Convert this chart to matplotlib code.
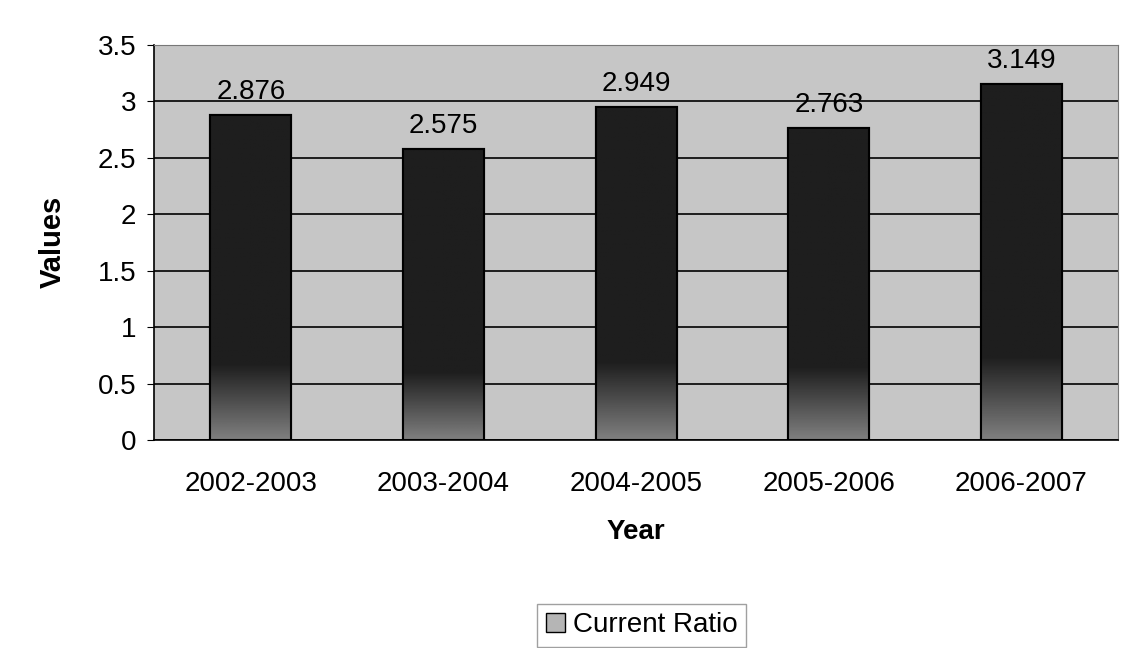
import numpy as np
import matplotlib
matplotlib.use("Agg")
import matplotlib.pyplot as plt

years = ['2002-2003', '2003-2004', '2004-2005', '2005-2006', '2006-2007']
current_ratio = [2.876, 2.575, 2.949, 2.763, 3.149]
yticks = [0, 0.5, 1, 1.5, 2, 2.5, 3, 3.5]
ytick_labels = ['0', '0.5', '1', '1.5', '2', '2.5', '3', '3.5']

plt.rcParams['font.family'] = ['Liberation Sans', 'DejaVu Sans']

fig = plt.figure(figsize=(11.36, 6.48), dpi=100)
ax = fig.add_axes([0.136, 0.321, 0.848, 0.610])
ax.set_facecolor('#c6c6c6')

x = np.arange(len(years))
bars = ax.bar(x, current_ratio, width=0.42, color='#1c1c1c', edgecolor='black',
              linewidth=1.5, zorder=3, label='Current Ratio')

# dark bars that fade to grey near the base
ramp = np.concatenate([np.linspace(0.5, 0.12, 60), np.full(196, 0.12)]).reshape(-1, 1)
for b in bars:
    x0, w, h = b.get_x(), b.get_width(), b.get_height()
    im = ax.imshow(ramp, cmap='gray', vmin=0, vmax=1, aspect='auto',
                   extent=(x0, x0 + w, 0, h), origin='lower', zorder=3.5)
    im.set_clip_path(b)
    ax.bar(x0 + w / 2, h, width=w, fill=False, edgecolor='black',
           linewidth=1.5, zorder=4)

for xi, v in zip(x, current_ratio):
    ax.text(xi, v + 0.09, f'{v:.3f}', ha='center', va='bottom', fontsize=20,
            zorder=5, clip_on=False)

ax.set_xlim(-0.5, len(years) - 0.5)
ax.set_ylim(0, 3.5)
ax.set_yticks(yticks)
ax.set_yticklabels(ytick_labels, fontsize=20)
ax.set_xticks(x)
ax.set_xticklabels(years, fontsize=20)
ax.tick_params(axis='x', length=0, pad=22)
ax.tick_params(axis='y', length=5, pad=8)
ax.yaxis.grid(True, color='black', linewidth=1.2, zorder=1)
ax.set_axisbelow(True)
for s in ['top', 'right']:
    ax.spines[s].set_color('#777777')
ax.spines['left'].set_linewidth(1.2)
ax.spines['bottom'].set_linewidth(1.2)

ax.set_xlabel('Year', fontsize=20, fontweight='bold', labelpad=16)
ax.set_ylabel('Values', fontsize=21, fontweight='bold', labelpad=22)

leg = fig.legend(handles=[plt.Rectangle((0, 0), 1, 1, facecolor='#b5b5b5', edgecolor='black')],
                 labels=['Current Ratio'], loc='center', bbox_to_anchor=(0.565, 0.035),
                 fontsize=20, frameon=True, fancybox=False, handlelength=0.7,
                 handleheight=0.7, handletextpad=0.3, borderpad=0.3)
leg.get_frame().set_edgecolor('#888888')

fig.savefig('out.png', dpi=100)
